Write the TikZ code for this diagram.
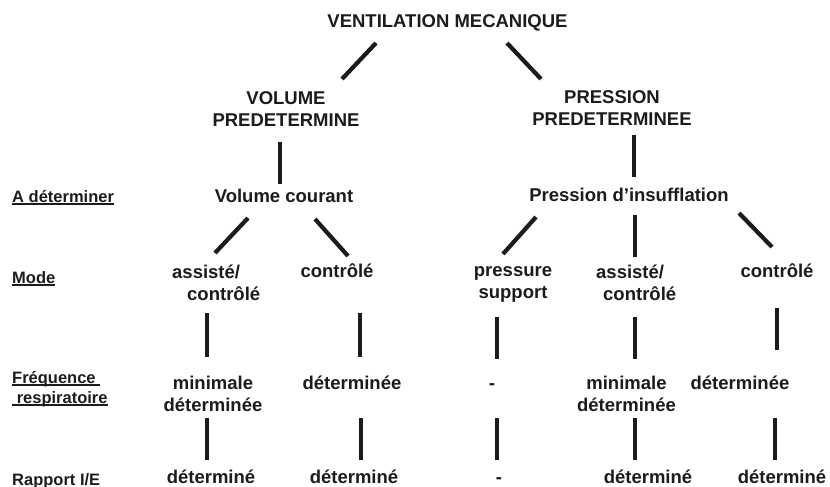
\documentclass[tikz,border=0pt]{standalone}
\usepackage{fontspec}
\setmainfont{Liberation Sans}
\definecolor{ink}{RGB}{28,28,28}
% underline drawn as a rule below the baseline, spaces included
\newsavebox{\ulbox}
\newcommand{\ulbar}[1]{\sbox{\ulbox}{#1}\rlap{\rule[-2.6pt]{\wd\ulbox}{1.4pt}}\usebox{\ulbox}}
% two-line blocks whose baseline is that of the first line
\newcommand{\twoc}[3][22.5pt]{\vtop{\baselineskip=#1\relax\halign{\hfil##\hfil\cr#2\cr#3\cr}}}
\newcommand{\twol}[3][22.5pt]{\vtop{\baselineskip=#1\relax\halign{##\hfil\cr#2\cr#3\cr}}}

\begin{document}
\begin{tikzpicture}[x=1pt,y=-1pt,
  txt/.style={font=\fontsize{18.5}{22.5}\selectfont\bfseries, inner sep=0pt, text=ink, anchor=base},
  lbl/.style={font=\fontsize{16.5}{20}\selectfont\bfseries, inner sep=0pt, text=ink, anchor=base west},
  link/.style={line width=4.2pt, draw=ink}]

\fill[white] (0,0) rectangle (830,487);
\useasboundingbox (0,0) rectangle (830,487);

% row labels
\node[lbl] (lA) at (12,202) {\ulbar{A déterminer}};
\node[lbl] (lM) at (12,283) {\ulbar{Mode}};
\node[lbl] (lF) at (12,383) {\twol[20pt]{\ulbar{Fréquence\ }}{\ulbar{\ respiratoire}}};
\node[lbl] (lR) at (12,485) {Rapport I/E};

% tree
\node[txt] (vm) at (447.5,28) {VENTILATION MECANIQUE};
\node[txt] (vp) at (286,104) {\twoc{VOLUME}{PREDETERMINE}};
\node[txt] (pp) at (612,103) {\twoc{PRESSION}{PREDETERMINEE}};
\node[txt] (vc) at (284,202) {Volume courant};
\node[txt] (pi) at (629,201) {Pression d{\char"27}insufflation};

% mode
\node[txt, anchor=base west] (m1) at (172,278) {\twol{assisté/}{\hspace*{15pt}contrôlé}};
\node[txt] (m2) at (337,277) {contrôlé};
\node[txt] (m3) at (513,276) {\twoc{pressure}{support}};
\node[txt, anchor=base west] (m4) at (596,278) {\twol{assisté/}{\hspace*{7pt}contrôlé}};
\node[txt] (m5) at (777,277) {contrôlé};

% frequence respiratoire
\node[txt] (f1) at (213,389) {\twoc{minimale}{déterminée}};
\node[txt] (f2) at (352,389) {déterminée};
\node[txt] (f3) at (492,389) {-};
\node[txt] (f4) at (626.5,389) {\twoc{minimale}{déterminée}};
\node[txt] (f5) at (740,389) {déterminée};

% rapport I/E
\node[txt] (r1) at (211,483) {déterminé};
\node[txt] (r2) at (354,483) {déterminé};
\node[txt] (r3) at (499,483) {-};
\node[txt] (r4) at (648,483) {déterminé};
\node[txt] (r5) at (782,483) {déterminé};

% connector end points
\coordinate (vm-vp-a) at (376,43);  \coordinate (vm-vp-b) at (342,79);
\coordinate (vm-pp-a) at (507,43);  \coordinate (vm-pp-b) at (541,79);
\coordinate (vp-vc-a) at (280,142); \coordinate (vp-vc-b) at (280,184);
\coordinate (pp-pi-a) at (634,135); \coordinate (pp-pi-b) at (634,177);
\coordinate (vc-m1-a) at (248,218); \coordinate (vc-m1-b) at (215,253);
\coordinate (vc-m2-a) at (315,219); \coordinate (vc-m2-b) at (348,256);
\coordinate (pi-m3-a) at (536,217); \coordinate (pi-m3-b) at (503,254);
\coordinate (pi-m4-a) at (635,215); \coordinate (pi-m4-b) at (635,257);
\coordinate (pi-m5-a) at (739,213); \coordinate (pi-m5-b) at (772,247);
\coordinate (m1-f1-a) at (207,313); \coordinate (m1-f1-b) at (207,357);
\coordinate (m2-f2-a) at (360,313); \coordinate (m2-f2-b) at (360,357);
\coordinate (m3-f3-a) at (497,317); \coordinate (m3-f3-b) at (497,359);
\coordinate (m4-f4-a) at (635,317); \coordinate (m4-f4-b) at (635,359);
\coordinate (m5-f5-a) at (777,308); \coordinate (m5-f5-b) at (777,350);
\coordinate (f1-r1-a) at (207,418); \coordinate (f1-r1-b) at (207,460);
\coordinate (f2-r2-a) at (361,418); \coordinate (f2-r2-b) at (361,460);
\coordinate (f3-r3-a) at (497,418); \coordinate (f3-r3-b) at (497,460);
\coordinate (f4-r4-a) at (635,418); \coordinate (f4-r4-b) at (635,460);
\coordinate (f5-r5-a) at (775,418); \coordinate (f5-r5-b) at (775,460);

\foreach \e in {vm-vp,vm-pp,vp-vc,pp-pi,vc-m1,vc-m2,pi-m3,pi-m4,pi-m5,
                m1-f1,m2-f2,m3-f3,m4-f4,m5-f5,f1-r1,f2-r2,f3-r3,f4-r4,f5-r5}
  \draw[link] (\e-a) -- (\e-b);
\end{tikzpicture}
\end{document}
